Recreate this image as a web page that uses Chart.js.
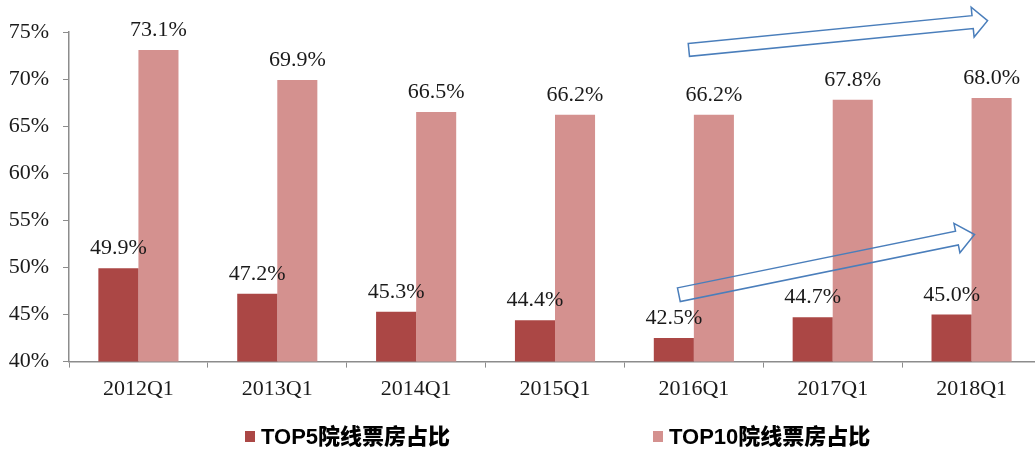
<!DOCTYPE html>
<html lang="zh">
<head>
  <meta charset="UTF-8">
  <title>院线票房占比</title>
  <script src="https://cdn.jsdelivr.net/npm/chart.js"></script>
  <style>
    html, body { margin: 0; padding: 0; background: #fff; overflow: hidden; }
    #wrap { position: relative; width: 1045px; height: 451px; }
    #legend { position: absolute; left: 0; top: 425px; font: bold 22px/24px "Liberation Sans", "Noto Sans CJK SC", sans-serif; color: #000; }
    #legend span.item { position: absolute; white-space: nowrap; }
    #legend i { position: absolute; top: 6px; width: 10px; height: 11px; }
    #legend b { display: inline-block; margin-left: 16px; }
  </style>
</head>
<body>
  <div id="wrap">
    <canvas id="shareChart" width="1045" height="451"></canvas>
    <div id="legend"></div>
  </div>

  <script>
    const quarters = ['2012Q1', '2013Q1', '2014Q1', '2015Q1', '2016Q1', '2017Q1', '2018Q1'];
    const top5 = [49.9, 47.2, 45.3, 44.4, 42.5, 44.7, 45.0];
    const top10 = [73.1, 69.9, 66.5, 66.2, 66.2, 67.8, 68.0];
    const yTicks = [40, 45, 50, 55, 60, 65, 70, 75];

    const serif = '"Liberation Serif", "Times New Roman", serif';

    // value labels above every bar
    const barLabels = {
      id: 'barLabels',
      afterDatasetsDraw(chart) {
        const ctx = chart.ctx;
        ctx.save();
        ctx.font = '22px ' + serif;
        ctx.fillStyle = '#1a1a1a';
        ctx.textAlign = 'center';
        ctx.textBaseline = 'alphabetic';
        chart.data.datasets.forEach((ds, i) => {
          chart.getDatasetMeta(i).data.forEach((bar, j) => {
            ctx.fillText(ds.data[j].toFixed(1) + '%', bar.x, bar.y - 14);
          });
        });
        ctx.restore();
      }
    };

    // two hollow trend arrows over the last three quarters
    function hollowArrow(ctx, x0, y0, x1, y1, half, headLen, headHalf) {
      const ang = Math.atan2(y1 - y0, x1 - x0);
      const len = Math.hypot(x1 - x0, y1 - y0);
      ctx.save();
      ctx.translate(x0, y0);
      ctx.rotate(ang);
      ctx.beginPath();
      ctx.moveTo(0, -half);
      ctx.lineTo(len - headLen, -half);
      ctx.lineTo(len - headLen, -headHalf);
      ctx.lineTo(len, 0);
      ctx.lineTo(len - headLen, headHalf);
      ctx.lineTo(len - headLen, half);
      ctx.lineTo(0, half);
      ctx.closePath();
      ctx.restore();
      ctx.stroke();
    }

    const trendArrows = {
      id: 'trendArrows',
      afterDatasetsDraw(chart) {
        const x = chart.scales.x, y = chart.scales.y;
        const ctx = chart.ctx;
        ctx.save();
        ctx.strokeStyle = '#4A7EBB';
        ctx.lineWidth = 1.5;
        hollowArrow(ctx, x.getPixelForValue(4) - 5, y.getPixelForValue(73.1),
                    x.getPixelForValue(6) + 16, y.getPixelForValue(76.2), 6.5, 15, 15);
        hollowArrow(ctx, x.getPixelForValue(4) - 15, y.getPixelForValue(47.1),
                    x.getPixelForValue(6) + 3, y.getPixelForValue(53.5), 7, 18, 15);
        ctx.restore();
      }
    };

    const chart = new Chart(document.getElementById('shareChart'), {
      type: 'bar',
      data: {
        labels: quarters,
        datasets: [
          { label: 'TOP5院线票房占比', data: top5, backgroundColor: '#AB4745' },
          { label: 'TOP10院线票房占比', data: top10, backgroundColor: '#D4918F' }
        ]
      },
      options: {
        responsive: false,
        animation: false,
        layout: { padding: { left: 0, right: 4, top: 32, bottom: 41 } },
        datasets: { bar: { barPercentage: 1, categoryPercentage: 0.577 } },
        plugins: { legend: { display: false }, tooltip: { enabled: false } },
        scales: {
          x: {
            grid: { display: true, drawOnChartArea: false, drawTicks: true, tickLength: 6, color: '#8c8c8c' },
            border: { color: '#8c8c8c', width: 1.5 },
            ticks: { color: '#1a1a1a', font: { family: serif, size: 22 }, padding: 8, maxRotation: 0 }
          },
          y: {
            min: 40,
            max: 75,
            afterBuildTicks(axis) { axis.ticks = yTicks.map(v => ({ value: v })); },
            afterFit(axis) { axis.width = 69; },
            grid: { display: true, drawOnChartArea: false, drawTicks: true, tickLength: 6, color: '#8c8c8c' },
            border: { color: '#8c8c8c', width: 1.5 },
            ticks: { color: '#1a1a1a', font: { family: serif, size: 22 }, padding: 14, callback: v => v + '%' }
          }
        }
      },
      plugins: [barLabels, trendArrows]
    });

    // legend laid out as in the source
    const legendPos = [245, 653];
    const legend = document.getElementById('legend');
    chart.data.datasets.forEach((ds, i) => {
      const item = document.createElement('span');
      item.className = 'item';
      item.style.left = legendPos[i] + 'px';
      item.innerHTML = '<i style="left:0;background:' + ds.backgroundColor + '"></i><b>' + ds.label + '</b>';
      legend.appendChild(item);
    });
  </script>
</body>
</html>
